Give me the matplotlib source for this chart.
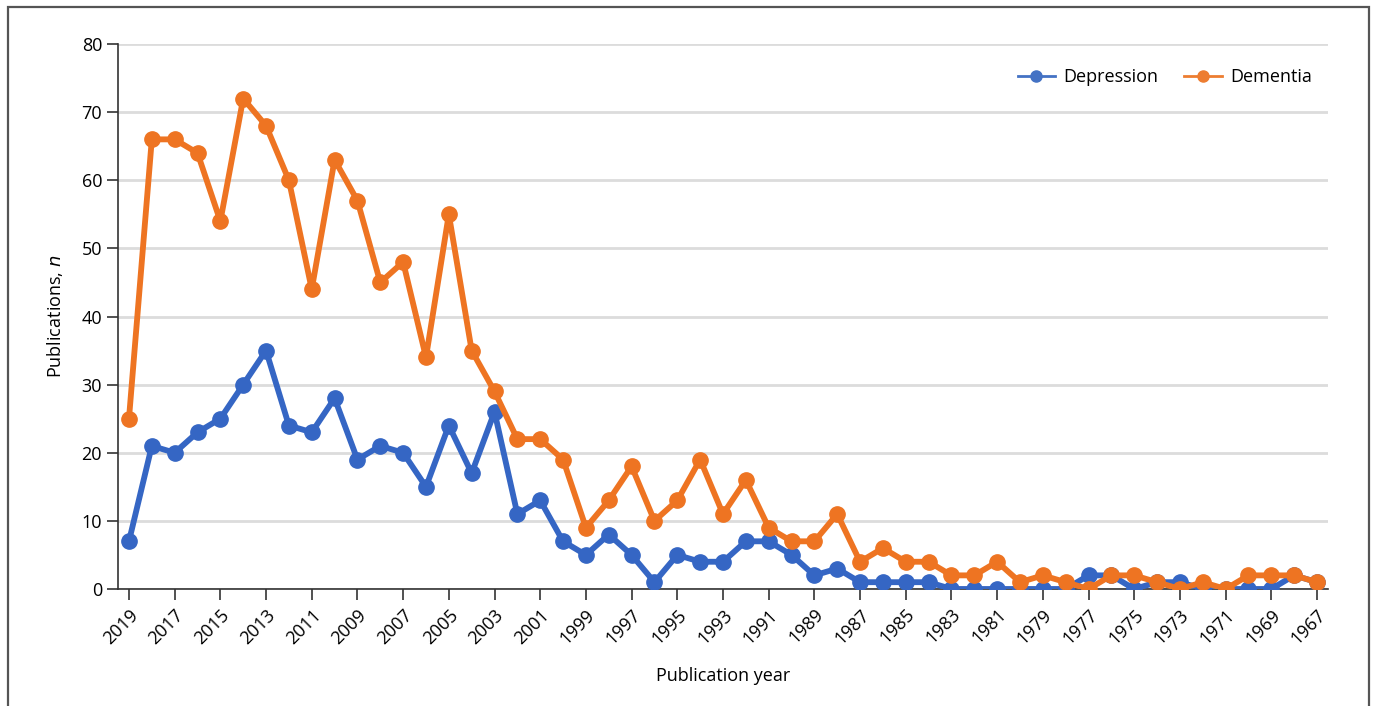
import matplotlib.pyplot as plt
from matplotlib.patches import Rectangle

plt.rcParams['font.family'] = ['Open Sans', 'DejaVu Sans']

years = list(range(2019, 1966, -1))
depression = [7, 21, 20, 23, 25, 30, 35, 24, 23, 28, 19, 21, 20, 15, 24, 17, 26,
              11, 13, 7, 5, 8, 5, 1, 5, 4, 4, 7, 7, 5, 2, 3, 1, 1, 1, 1, 0, 0,
              0, 0, 0, 0, 2, 2, 0, 1, 1, 0, 0, 0, 0, 2, 1]
dementia = [25, 66, 66, 64, 54, 72, 68, 60, 44, 63, 57, 45, 48, 34, 55, 35, 29,
            22, 22, 19, 9, 13, 18, 10, 13, 19, 11, 16, 9, 7, 7, 11, 4, 6, 4, 4,
            2, 2, 4, 1, 2, 1, 0, 2, 2, 1, 0, 1, 0, 2, 2, 2, 1]

blue = '#3566C4'
orange = '#EE7422'

fig = plt.figure(figsize=(13.75, 7.06), dpi=100)
ax = fig.add_axes([118 / 1375, 1 - 589 / 706, 1210 / 1375, 545 / 706])

ax.plot(years, depression, color=blue, lw=4.2, marker='o', ms=11, zorder=3)
ax.plot(years, dementia, color=orange, lw=4.2, marker='o', ms=11, zorder=4)

ax.set_xlim(2019.48, 1966.52)
ax.set_ylim(0, 80)
ax.set_yticks(range(0, 81, 10))
ax.set_xticks(years[::2])
ax.set_xticklabels([str(y) for y in years[::2]], rotation=45, ha='right',
                   rotation_mode='anchor')
ax.tick_params(axis='both', labelsize=13, color='#333333', length=8, width=1.2)
ax.tick_params(axis='x', pad=4)

ax.grid(axis='y', color='#dcdcdc', lw=2)
ax.set_axisbelow(True)
for s in ['top', 'right']:
    ax.spines[s].set_visible(False)
for s in ['left', 'bottom']:
    ax.spines[s].set_color('#333333')
    ax.spines[s].set_linewidth(1.2)

ax.set_xlabel('Publication year', fontsize=13, labelpad=14)
ax.set_ylabel('Publications, $\\it{n}$', fontsize=13, labelpad=12)

h1, = ax.plot([], [], color='#4472C4', lw=2, marker='o', ms=8)
h2, = ax.plot([], [], color='#ED7D31', lw=2, marker='o', ms=8)
ax.legend([h1, h2], ['Depression', 'Dementia'], loc='upper right',
          bbox_to_anchor=(1.0, 0.985), ncol=2, frameon=False, fontsize=13,
          handlelength=2.1, handletextpad=0.45, columnspacing=1.4)

fig.add_artist(Rectangle((8 / 1375, -0.1), 1361 / 1375, 1.1 - 7 / 706,
                         transform=fig.transFigure, fill=False,
                         edgecolor='#555555', lw=1.6))

fig.savefig('out.png', dpi=100)
